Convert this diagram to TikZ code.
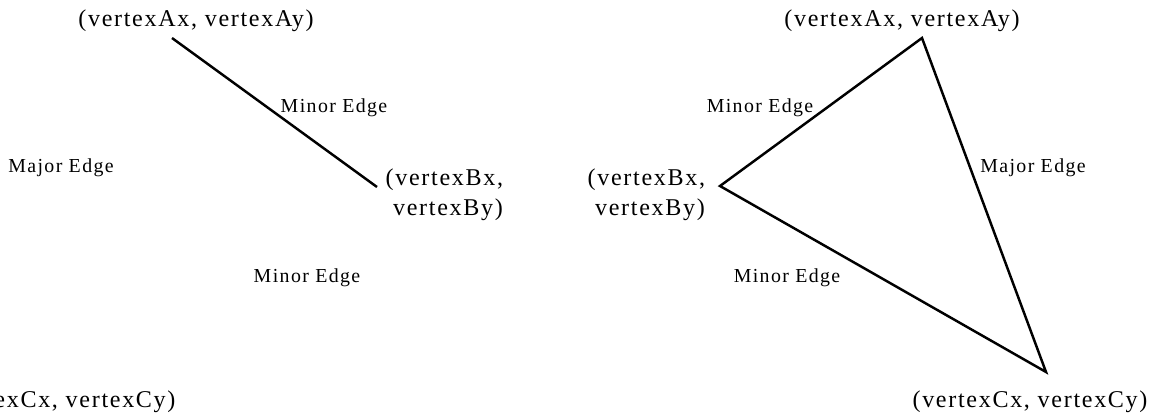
\documentclass[tikz,border=0pt]{standalone}
\usepackage{fontspec}
\setmainfont{Liberation Serif}
\newfontfamily\vtxfont[LetterSpace=7]{Liberation Serif}
\newfontfamily\edgefont[LetterSpace=7]{Liberation Serif}
\usetikzlibrary{positioning}

\tikzset{
  vtxlabel/.style={inner sep=0pt, align=center, font=\vtxfont\fontsize{13.7}{17}\selectfont},
  edgelabel/.style={inner sep=0pt, font=\edgefont\fontsize{11.3}{13}\selectfont},
  edgeline/.style={line width=1.4pt, line join=miter}
}

\begin{document}
\begin{tikzpicture}[x=0.02cm, y=-0.02cm]
  \useasboundingbox (0,0) rectangle (1154,416);
  % left: only one edge drawn
  \coordinate (lA) at (172,38);
  \coordinate (lB) at (377,187);
  \node[vtxlabel] (lAlabel) at (196,21) {(vertexAx, vertexAy)};
  \node[edgelabel] (lAB) at (334,108) {Minor Edge};
  \node[edgelabel] (lAC) at (61,168) {Major Edge};
  \node[vtxlabel] (lBlabel) at (448,195) {(vertexBx,\hspace*{0.3em}\\vertexBy)};
  \node[edgelabel] (lBC) at (307,278) {Minor Edge};
  \node[vtxlabel] (lClabel) at (58,402) {(vertexCx, vertexCy)};
  \draw[edgeline] (lA) -- (lB);

  % right: full triangle
  \coordinate (rA) at (922,38);
  \coordinate (rB) at (720,186);
  \coordinate (rC) at (1046,372);
  \node[vtxlabel] (rAlabel) at (902,21) {(vertexAx, vertexAy)};
  \node[edgelabel] (rAB) at (760,108) {Minor Edge};
  \node[edgelabel] (rAC) at (1033,168) {Major Edge};
  \node[vtxlabel] (rBlabel) at (650,195) {(vertexBx,\hspace*{0.3em}\\vertexBy)};
  \node[edgelabel] (rBC) at (787,278) {Minor Edge};
  \node[vtxlabel] (rClabel) at (1030,402) {(vertexCx, vertexCy)};
  \draw[edgeline] (rA) -- (rB) -- (rC) -- cycle;
\end{tikzpicture}
\end{document}
